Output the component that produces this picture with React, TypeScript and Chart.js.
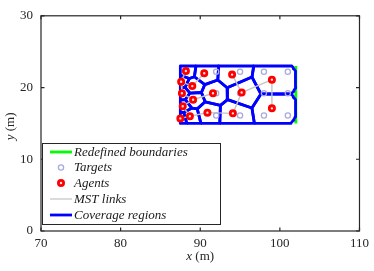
import { useEffect, useRef } from "react";
import { Chart, registerables } from "chart.js";
Chart.register(...registerables);

const xTicks = [70, 80, 90, 100, 110];
const yTicks = [0, 10, 20, 30];

const agentX = [88.2, 90.5, 94.0, 99.0, 87.6, 89.0, 91.6, 95.2, 87.7, 89.1, 87.8, 99.0, 90.9, 94.1, 88.7, 87.5];
const agentY = [22.3, 22.0, 21.8, 21.1, 20.8, 20.2, 19.2, 19.3, 19.2, 18.3, 17.4, 17.1, 16.5, 16.4, 16.0, 15.7];

const targetX = [92, 95, 98, 101, 92, 95, 98, 101, 92, 95, 98, 101];
const targetY = [22.2, 22.2, 22.2, 22.2, 19.2, 19.2, 19.2, 19.2, 16.1, 16.1, 16.1, 16.1];

const mstFrom = [0, 4, 4, 8, 9, 10, 14, 14, 12, 13, 7, 7, 3, 9, 5];
const mstTo = [4, 5, 8, 9, 10, 14, 15, 12, 13, 7, 2, 3, 11, 6, 1];

const regionX = [87.5, 102];
const regionY = [15, 23];
const boundaryX = [102, 102];
const boundaryY = [15, 23];
const sensingRadius = 3.15;

const legendLabels = ["Redefined boundaries", "Targets", "Agents", "MST links", "Coverage regions"];

type P = { x: number; y: number };

function clip(poly: P[], f: (p: P) => number): P[] {
  const out: P[] = [];
  for (let i = 0; i < poly.length; i++) {
    const a = poly[i];
    const b = poly[(i + 1) % poly.length];
    const fa = f(a);
    const fb = f(b);
    if (fa <= 0) out.push(a);
    if ((fa < 0 && fb > 0) || (fa > 0 && fb < 0)) {
      const t = fa / (fa - fb);
      out.push({ x: a.x + t * (b.x - a.x), y: a.y + t * (b.y - a.y) });
    }
  }
  return out;
}

function cellOf(i: number): P[] {
  let poly: P[] = [
    { x: regionX[0], y: regionY[0] },
    { x: regionX[1], y: regionY[0] },
    { x: regionX[1], y: regionY[1] },
    { x: regionX[0], y: regionY[1] },
  ];
  const ax = agentX[i];
  const ay = agentY[i];
  for (let j = 0; j < agentX.length; j++) {
    if (j === i) continue;
    const bx = agentX[j];
    const by = agentY[j];
    const mx = (ax + bx) / 2;
    const my = (ay + by) / 2;
    poly = clip(poly, (p) => (p.x - mx) * (bx - ax) + (p.y - my) * (by - ay));
  }
  const N = 120;
  for (let k = 0; k < N; k++) {
    const th = (2 * Math.PI * k) / N;
    const c = Math.cos(th);
    const s = Math.sin(th);
    poly = clip(poly, (p) => (p.x - ax) * c + (p.y - ay) * s - sensingRadius);
  }
  if (poly.length) poly.push(poly[0]);
  return poly;
}

const FONT = "'Liberation Serif', 'DejaVu Serif', serif";

const decor = {
  id: "decor",
  afterDraw(chart: any) {
    const { ctx, chartArea: a, scales } = chart;
    const xs = scales.x;
    const ys = scales.y;
    ctx.save();
    ctx.strokeStyle = "#262626";
    ctx.lineWidth = 1.2;
    ctx.strokeRect(a.left, a.top, a.right - a.left, a.bottom - a.top);
    const tl = 3.5;
    ctx.beginPath();
    xTicks.forEach((v) => {
      const px = xs.getPixelForValue(v);
      ctx.moveTo(px, a.bottom);
      ctx.lineTo(px, a.bottom - tl);
      ctx.moveTo(px, a.top);
      ctx.lineTo(px, a.top + tl);
    });
    yTicks.forEach((v) => {
      const py = ys.getPixelForValue(v);
      ctx.moveTo(a.left, py);
      ctx.lineTo(a.left + tl, py);
      ctx.moveTo(a.right, py);
      ctx.lineTo(a.right - tl, py);
    });
    ctx.stroke();

    ctx.fillStyle = "#262626";
    ctx.textBaseline = "middle";
    const it = `italic 13px ${FONT}`;
    const nf = `13px ${FONT}`;
    ctx.font = it;
    const w1 = ctx.measureText("x").width;
    ctx.font = nf;
    const w2 = ctx.measureText(" (m)").width;
    const cx = (a.left + a.right) / 2;
    let sx = cx - (w1 + w2) / 2;
    ctx.font = it;
    ctx.textAlign = "left";
    ctx.fillText("x", sx, 257);
    ctx.font = nf;
    ctx.fillText(" (m)", sx + w1, 257);

    ctx.save();
    ctx.translate(10.5, (a.top + a.bottom) / 2 + 3);
    ctx.rotate(-Math.PI / 2);
    ctx.font = it;
    const v1 = ctx.measureText("y").width;
    ctx.font = nf;
    const v2 = ctx.measureText(" (m)").width;
    sx = -(v1 + v2) / 2;
    ctx.font = it;
    ctx.fillText("y", sx, 0);
    ctx.font = nf;
    ctx.fillText(" (m)", sx + v1, 0);
    ctx.restore();

    const bx = 42.5, by = 143.5, bw = 178, bh = 81;
    ctx.fillStyle = "#ffffff";
    ctx.fillRect(bx, by, bw, bh);
    ctx.strokeStyle = "#262626";
    ctx.lineWidth = 1;
    ctx.strokeRect(bx, by, bw, bh);
    const rows = [152, 167.5, 183, 199, 215];
    const lx0 = 50, lx1 = 72, mx = 61;
    ctx.lineWidth = 2.8;
    ctx.strokeStyle = "#00ff00";
    ctx.beginPath(); ctx.moveTo(lx0, rows[0]); ctx.lineTo(lx1, rows[0]); ctx.stroke();
    ctx.lineWidth = 1.3;
    ctx.strokeStyle = "rgb(170,170,225)";
    ctx.beginPath(); ctx.arc(mx, rows[1], 2.6, 0, Math.PI * 2); ctx.stroke();
    ctx.fillStyle = "#ffe0e0";
    ctx.lineWidth = 2.8;
    ctx.strokeStyle = "#ff0000";
    ctx.beginPath(); ctx.arc(mx, rows[2], 2.6, 0, Math.PI * 2); ctx.fill(); ctx.stroke();
    ctx.lineWidth = 1.3;
    ctx.strokeStyle = "rgb(200,200,200)";
    ctx.beginPath(); ctx.moveTo(lx0, rows[3]); ctx.lineTo(lx1, rows[3]); ctx.stroke();
    ctx.lineWidth = 2.8;
    ctx.strokeStyle = "#0000ff";
    ctx.beginPath(); ctx.moveTo(lx0, rows[4]); ctx.lineTo(lx1, rows[4]); ctx.stroke();

    ctx.fillStyle = "#1a1a1a";
    ctx.font = it;
    ctx.textAlign = "left";
    legendLabels.forEach((t, i) => ctx.fillText(t, 74, rows[i] + 0.5));
    ctx.restore();
  },
};

export default function App() {
  const ref = useRef<HTMLCanvasElement | null>(null);
  useEffect(() => {
    document.body.style.margin = "0";
    const canvas = ref.current!;
    const datasets: any[] = [];
    datasets.push({
      label: "Agents",
      data: agentX.map((x, i) => ({ x, y: agentY[i] })),
      showLine: false,
      pointRadius: 2.6,
      pointBorderWidth: 2.8,
      pointBackgroundColor: "#ffe0e0",
      pointBorderColor: "#ff0000",
      order: 0,
    });
    datasets.push({
      label: "Targets",
      data: targetX.map((x, i) => ({ x, y: targetY[i] })),
      showLine: false,
      pointRadius: 2.6,
      pointBorderWidth: 1.3,
      pointBackgroundColor: "rgba(0,0,0,0)",
      pointBorderColor: "rgb(170,170,225)",
      order: 1,
    });
    mstFrom.forEach((f, k) => {
      const t = mstTo[k];
      datasets.push({
        label: "MST",
        data: [
          { x: agentX[f], y: agentY[f] },
          { x: agentX[t], y: agentY[t] },
        ],
        showLine: true,
        borderColor: "rgb(195,195,195)",
        borderWidth: 1.4,
        pointRadius: 0,
        order: 2,
      });
    });
    agentX.forEach((_, i) => {
      datasets.push({
        label: "Cell",
        data: cellOf(i),
        showLine: true,
        borderColor: "#0000ff",
        borderWidth: 2.8,
        borderJoinStyle: "round",
        pointRadius: 0,
        order: 3,
      });
    });
    datasets.push({
      label: "Boundary",
      data: boundaryX.map((x, i) => ({ x, y: boundaryY[i] })),
      showLine: true,
      borderColor: "#00ff00",
      borderWidth: 2.8,
      pointRadius: 0,
      order: 4,
    });

    const chart = new Chart(canvas, {
      type: "scatter",
      data: { datasets },
      plugins: [decor],
      options: {
        animation: false,
        responsive: false,
        events: [],
        layout: { padding: { top: 7, right: 13, left: 0, bottom: 0 } },
        plugins: { legend: { display: false }, tooltip: { enabled: false } },
        scales: {
          x: {
            type: "linear",
            min: 70,
            max: 110,
            afterFit: (s: any) => { s.height = 40; },
            afterBuildTicks: (s: any) => { s.ticks = xTicks.map((v) => ({ value: v })); },
            grid: { display: false, drawTicks: false },
            border: { display: false },
            ticks: { padding: 5, color: "#262626", font: { family: FONT, size: 13 } },
          },
          y: {
            type: "linear",
            min: 0,
            max: 30,
            afterFit: (s: any) => { s.width = 41; },
            afterBuildTicks: (s: any) => { s.ticks = yTicks.map((v) => ({ value: v })); },
            grid: { display: false, drawTicks: false },
            border: { display: false },
            ticks: { padding: 8, color: "#262626", font: { family: FONT, size: 13 } },
          },
        },
      },
    });
    return () => chart.destroy();
  }, []);
  return <canvas ref={ref} width={374} height={271} style={{ display: "block", width: 374, height: 271 }} />;
}
